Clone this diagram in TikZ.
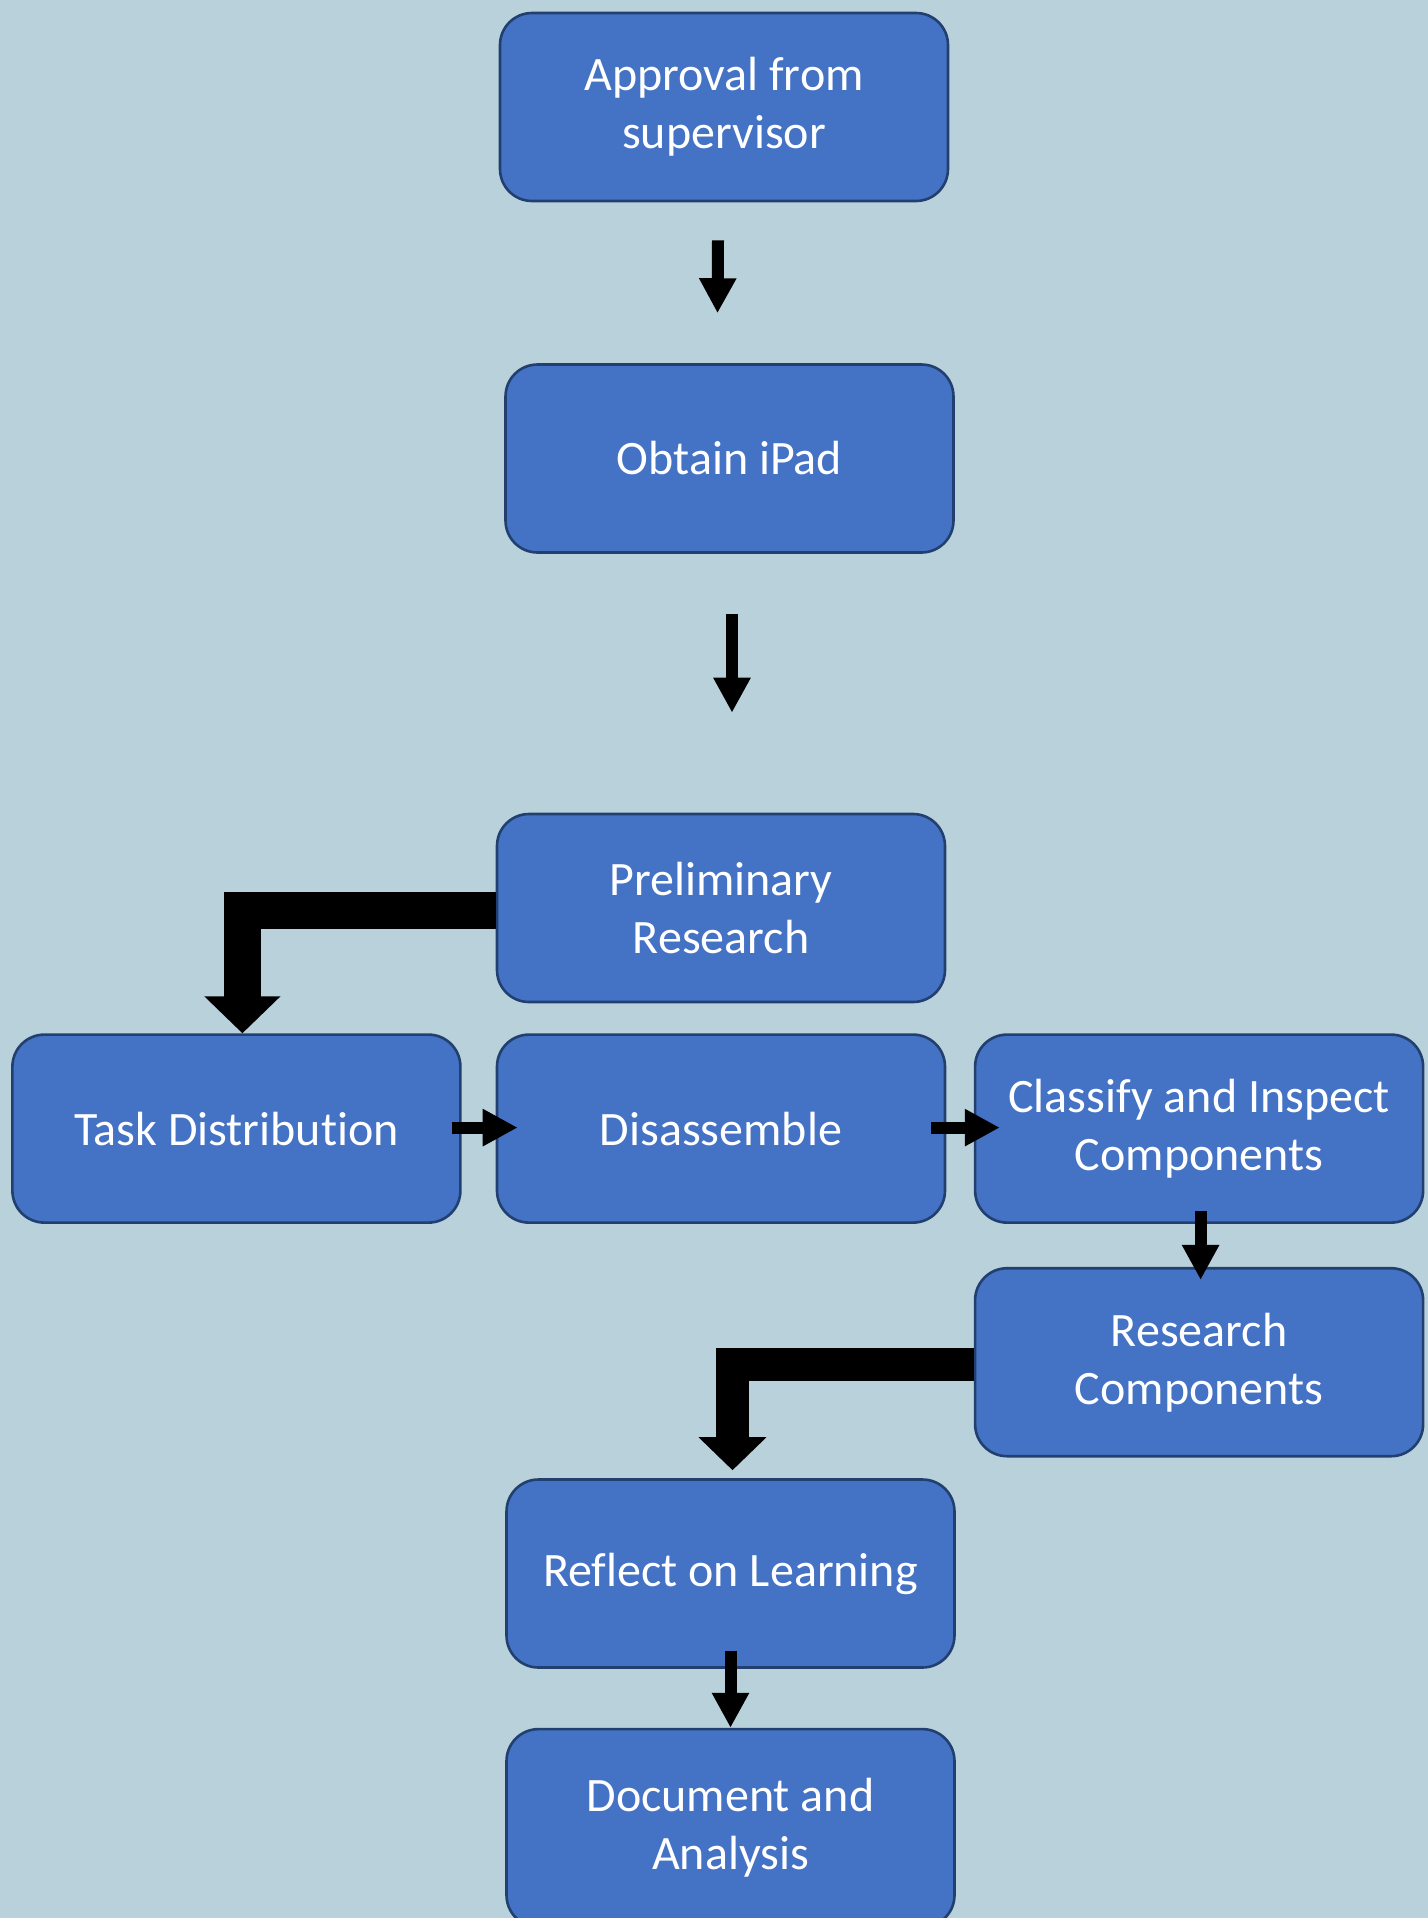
\documentclass[tikz,border=0pt]{standalone}
\usepackage{fontspec}
\setmainfont{Carlito}[Ligatures=NoCommon]
\usepackage{tikz}
\usetikzlibrary{positioning, arrows.meta}
\definecolor{canvas}{HTML}{B8D1DA}
\definecolor{boxfill}{HTML}{4472C4}
\definecolor{boxline}{HTML}{22406F}

\begin{document}
\begin{tikzpicture}[x=0.5pt, y=-0.5pt,
    stepbox/.style={draw=boxline, fill=boxfill, line width=1.3pt, rounded corners=16pt, minimum width=224pt, minimum height=94pt, align=center, text=white, font=\fontsize{24}{29}\selectfont},
    flow/.style={line width=6pt, -{Triangle[width=17.5pt, length=17.5pt]}},
    bend/.style={line width=#1, -{Triangle[width=2*#1, length=#1]}}]
      % Background
      \fill[canvas] (0,0) rectangle (1428,1918);
      \useasboundingbox (0,0) rectangle (1428,1918);

      % Nodes
      \node[stepbox] (appr) at (724,107) {Approval from\\supervisor};
      \node[stepbox] (ipad) at (729.5,458.5) {Obtain iPad};
      \node[stepbox] (prelim) at (721,908) {Preliminary\\Research};
      \node[stepbox, below=15pt of prelim] (dis) {Disassemble};
      \node[stepbox, left=17pt of dis] (task) {Task Distribution};
      \node[stepbox, right=13.75pt of dis, text depth=4pt] (cls) {Classify and Inspect\\Components};
      \node[stepbox, below=21.5pt of cls] (rcomp) {Research\\Components};
      \node[stepbox] (reflect) at (730.5,1573.5) {Reflect on Learning};
      \node[stepbox, below=29.5pt of reflect, minimum height=99pt] (doc) {Document and\\Analysis};

      % Connections
      \draw[flow] ([xshift=-3pt, yshift=-19pt]appr.south) -- ([xshift=-6pt, yshift=25pt]ipad.north);
      \draw[flow] ([xshift=1.25pt, yshift=-30pt]ipad.south) -- ([xshift=5.5pt, yshift=50pt]prelim.north);
      \draw[bend=18.5pt] ([yshift=-1pt]prelim.west) -| ([xshift=3pt]task.north);
      \draw[flow] ([xshift=-5pt, yshift=0.5pt]task.east) -- ([xshift=11pt, yshift=0.5pt]dis.west);
      \draw[flow] ([xshift=-7.75pt, yshift=0.5pt]dis.east) -- ([xshift=13pt, yshift=0.5pt]cls.west);
      \draw[flow] ([xshift=0.75pt, yshift=6.5pt]cls.south) -- ([xshift=0.75pt, yshift=-6.5pt]rcomp.north);
      \draw[bend=16.5pt] ([yshift=-1pt]rcomp.west) -| ([xshift=1pt, yshift=4pt]reflect.north);
      \draw[flow] ([yshift=9pt]reflect.south) -- (doc.north);
    \end{tikzpicture}
\end{document}
